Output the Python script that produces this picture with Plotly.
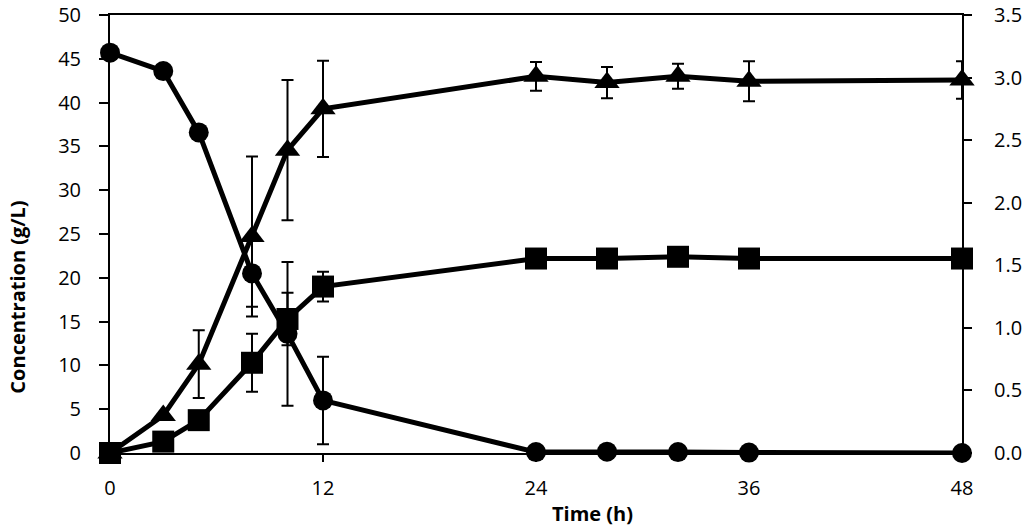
import plotly.graph_objects as go

time_h = [0, 3, 5, 8, 10, 12, 24, 28, 32, 36, 48]

# Circles (left axis, g/L)
circle_vals = [45.7, 43.6, 36.6, 20.5, 13.6, 6.0, 0.1, 0.15, 0.1, 0.05, 0.0]
circle_err = [0, 0, 0, 3.8, 8.2, 5.0, 0, 0, 0, 0, 0]

# Squares (left axis, g/L)
square_vals = [0.0, 1.3, 3.75, 10.3, 15.3, 19.0, 22.2, 22.2, 22.4, 22.2, 22.2]
square_err = [0, 0, 0, 3.3, 3.0, 1.7, 0.3, 0.3, 0.3, 0.3, 0.3]

# Triangles (right axis)
triangle_vals = [0.0, 0.30, 0.71, 1.73, 2.42, 2.75, 3.01, 2.96, 3.01, 2.97, 2.98]
triangle_err = [0, 0, 0.27, 0.64, 0.56, 0.385, 0.115, 0.125, 0.10, 0.16, 0.15]

x_ticks = [0, 12, 24, 36, 48]
left_ticks = [0, 5, 10, 15, 20, 25, 30, 35, 40, 45, 50]
right_ticks = [0, 0.5, 1.0, 1.5, 2.0, 2.5, 3.0, 3.5]

x_title = "Time (h)"
y_title = "Concentration (g/L)"

FONT = "Open Sans"

def err(arr):
    return dict(type="data", array=arr, visible=True, color="black", thickness=2, width=6)

fig = go.Figure()
fig.add_trace(go.Scatter(
    x=time_h, y=circle_vals, mode="lines+markers", yaxis="y",
    line=dict(color="black", width=5),
    marker=dict(symbol="circle", size=20, color="black"),
    error_y=err(circle_err), cliponaxis=False, showlegend=False))
fig.add_trace(go.Scatter(
    x=time_h, y=square_vals, mode="lines+markers", yaxis="y",
    line=dict(color="black", width=5),
    marker=dict(symbol="square", size=22, color="black"),
    error_y=err(square_err), cliponaxis=False, showlegend=False))
fig.add_trace(go.Scatter(
    x=time_h, y=triangle_vals, mode="lines+markers", yaxis="y2",
    line=dict(color="black", width=5),
    marker=dict(symbol="triangle-up", size=22, color="black"),
    error_y=err(triangle_err), cliponaxis=False, showlegend=False))

fig.update_layout(
    width=1024, height=526,
    margin=dict(l=110, r=62, t=15, b=73),
    paper_bgcolor="white", plot_bgcolor="white",
    font=dict(family=FONT, color="black", size=20),
    xaxis=dict(
        range=[0, 48], tickvals=x_ticks, ticktext=[str(v) for v in x_ticks],
        showgrid=False, zeroline=False, showline=True, linecolor="black", linewidth=2,
        mirror=True, ticks="outside", ticklen=7, tickwidth=2, tickcolor="black",
        ticklabelstandoff=9, automargin=False, ticklabeloverflow="allow",
    ),
    yaxis=dict(
        range=[0, 50], tickvals=left_ticks,
        showgrid=False, zeroline=False, showline=True, linecolor="black", linewidth=2,
        ticks="outside", ticklen=9, tickwidth=2, tickcolor="black",
        ticklabelstandoff=14, automargin=False, ticklabeloverflow="allow",
    ),
    yaxis2=dict(
        range=[0, 3.5], tickvals=right_ticks, ticktext=[f"{v:.1f}" for v in right_ticks],
        overlaying="y", side="right",
        showgrid=False, zeroline=False, showline=True, linecolor="black", linewidth=2,
        ticks="outside", ticklen=8, tickwidth=2, tickcolor="black",
        ticklabelstandoff=18, automargin=False, ticklabeloverflow="allow",
    ),
    annotations=[
        dict(text=f"<b>{x_title}</b>", xref="paper", yref="paper", x=0.566, y=-0.138,
             xanchor="center", yanchor="middle", showarrow=False,
             font=dict(size=20, family=FONT)),
        dict(text=f"<b>{y_title}</b>", xref="paper", yref="paper", x=-0.109, y=0.355,
             xanchor="center", yanchor="middle", showarrow=False, textangle=-90,
             font=dict(size=20, family=FONT)),
    ],
)

fig.write_html("out.html", config={"displayModeBar": False},
               post_script="document.body.style.margin='0px';document.body.style.overflow='hidden';")
